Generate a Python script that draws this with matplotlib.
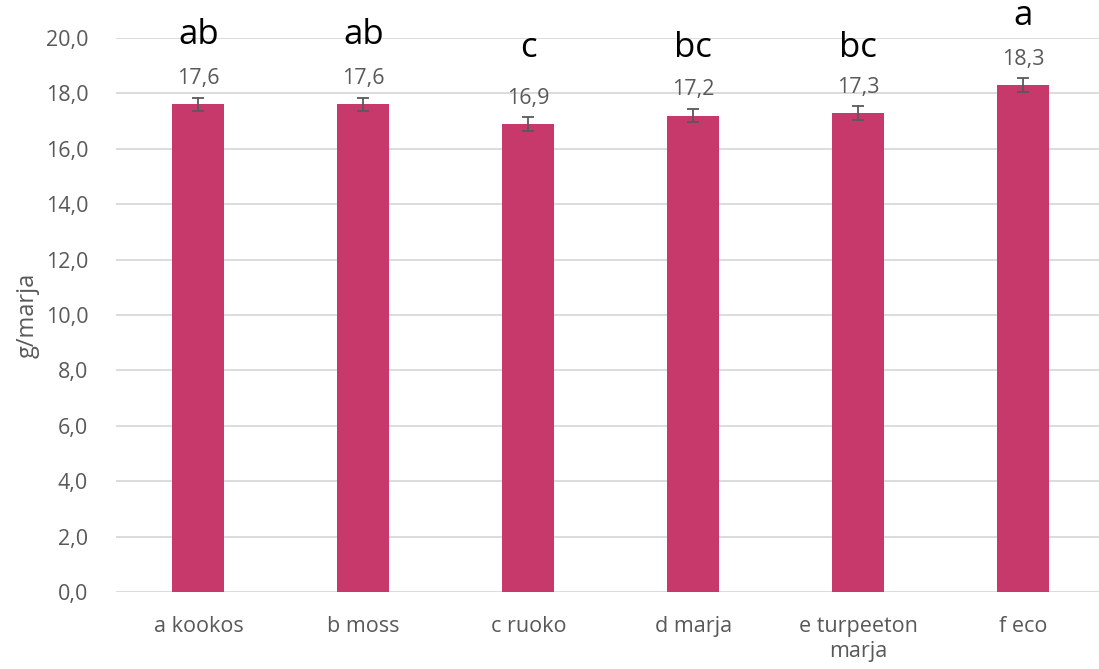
import matplotlib
matplotlib.use("Agg")
import matplotlib.pyplot as plt

categories = ["a kookos", "b moss", "c ruoko", "d marja", "e turpeeton\nmarja", "f eco"]
values = [17.6, 17.6, 16.9, 17.2, 17.3, 18.3]
errors = [0.25, 0.25, 0.25, 0.25, 0.25, 0.25]
letters = ["ab", "ab", "c", "bc", "bc", "a"]
letter_y = [20.1, 20.1, 19.65, 19.65, 19.65, 20.8]
yticks = [0, 2, 4, 6, 8, 10, 12, 14, 16, 18, 20]

plt.rcParams['font.family'] = ['Open Sans', 'DejaVu Sans']
W, H = 1099, 669
fig = plt.figure(figsize=(W/100, H/100), dpi=100)
ax = fig.add_axes([116/W, 1-592/H, (W-116)/W, (592-38)/H])

x = list(range(len(categories)))
ax.bar(x, values, width=0.315, color="#C8396B", zorder=3)
ax.errorbar(x, values, yerr=errors, fmt="none", ecolor="#595959", elinewidth=1.3,
            capsize=4, capthick=1.3, zorder=4)
for xi, v, e in zip(x, values, errors):
    ax.annotate(f"{v:.1f}".replace(".", ","), (xi, v + e), xytext=(0, 6),
                textcoords="offset points", ha="center", va="bottom",
                fontsize=15.5, color="#595959")
for xi, l, ly in zip(x, letters, letter_y):
    ax.text(xi, ly, l, ha="center", va="center", fontsize=25, color="black", clip_on=False)

ax.set_xlim(-0.5, (W - 198) / 165)
ax.set_ylim(0, 20)
ax.set_yticks(yticks)
ax.set_yticklabels([f"{t:.1f}".replace(".", ",") for t in yticks])
ax.set_xticks(x)
ax.set_xticklabels(categories, linespacing=1.3)
ax.tick_params(axis="both", length=0, labelsize=15.5, labelcolor="#595959")
ax.tick_params(axis="y", pad=20)
ax.tick_params(axis="x", pad=17)
for s in ax.spines.values():
    s.set_visible(False)
ax.yaxis.grid(True, color="#D9D9D9", linewidth=1.3, zorder=0)
ax.set_axisbelow(True)
ax.set_ylabel("g/marja", fontsize=17, color="#595959", labelpad=4)

fig.savefig("out.png", dpi=100)
